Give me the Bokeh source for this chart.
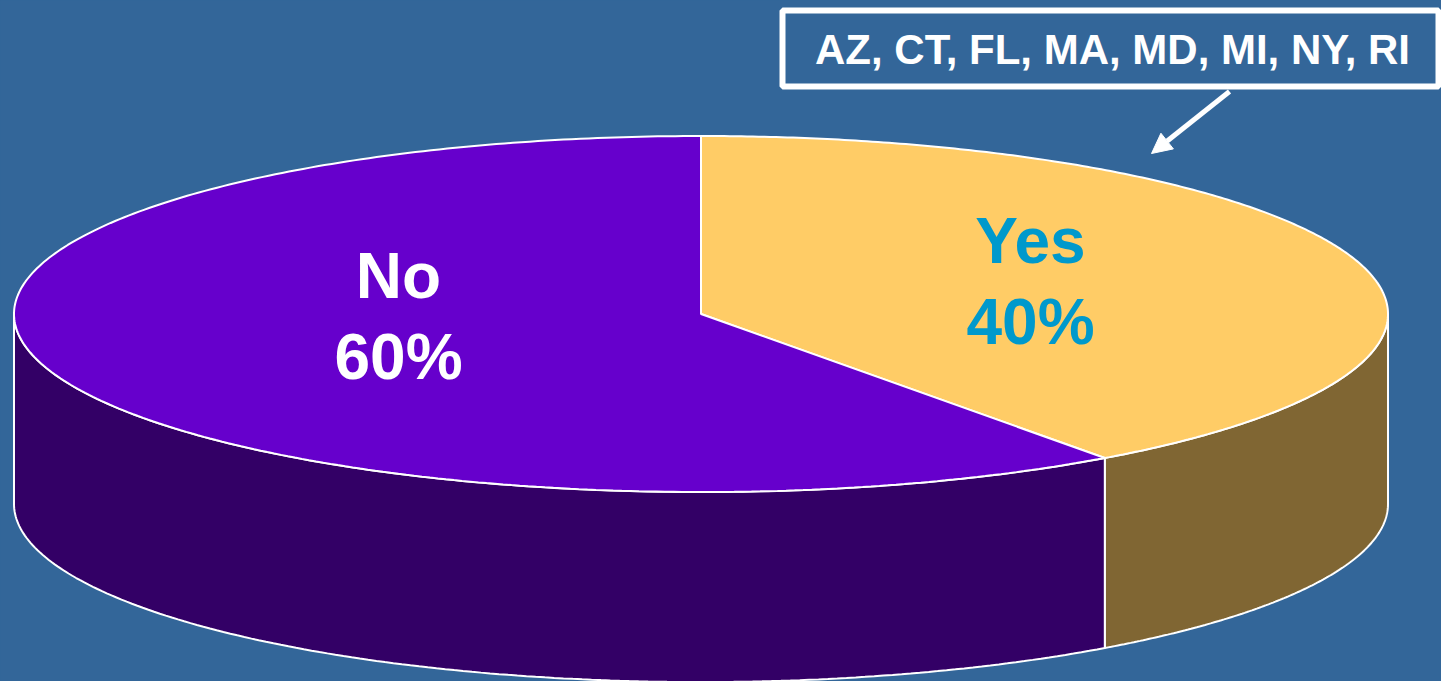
import numpy as np
from bokeh.plotting import figure
from bokeh.models import Arrow, NormalHead, Range1d
from bokeh.core.properties import value
from bokeh.embed import file_html
from bokeh.resources import INLINE

categories = ["Yes", "No"]
shares = [40, 60]
percent_labels = ["40%", "60%"]
states_label = "AZ, CT, FL, MA, MD, MI, NY, RI"

W, H = 1441, 681
BG = "#336699"
TOP_COLORS = ["#FFCC66", "#6600CC"]
WALL_COLORS = ["#806633", "#330066"]
LABEL_COLORS = ["#0099CC", "#FFFFFF"]
CX, CY, RX, RY, DEPTH = 700.5, 313.5, 687, 178, 190

def ell(theta, dy=0.0):
    return CX + RX*np.sin(theta), CY - RY*np.cos(theta) + dy

p = figure(width=W, height=H, x_range=Range1d(0, W), y_range=Range1d(H, 0),
           output_backend="svg", toolbar_location=None, min_border=0,
           background_fill_color=BG, border_fill_color=BG, outline_line_color=None)
p.axis.visible = False
p.grid.visible = False

total = sum(shares)
start = 0.0
for share, top, wall in zip(shares, TOP_COLORS, WALL_COLORS):
    a0, a1 = start, start + 2*np.pi*share/total
    start = a1
    # visible outer wall: the part of the arc on the front half
    w0, w1 = max(a0, np.pi/2), min(a1, 3*np.pi/2)
    if w1 > w0:
        t = np.linspace(w0, w1, 160)
        xu, yu = ell(t)
        xl, yl = ell(t[::-1], DEPTH)
        p.patch(np.r_[xu, xl], np.r_[yu, yl], fill_color=wall, line_color="white", line_width=2)
    t = np.linspace(a0, a1, 300)
    xt, yt = ell(t)
    p.patch(np.r_[CX, xt], np.r_[CY, yt], fill_color=top, line_color="white", line_width=2)

font = value("Liberation Sans")
lx = [1030, 398]
ly = [240, 275]
for i in range(2):
    for txt, dy in ((categories[i], 0), (percent_labels[i], 81)):
        p.text([lx[i]], [ly[i]+dy], text=[txt], text_color=LABEL_COLORS[i], text_font=font,
               text_font_size="64px", text_font_style="bold", text_align="center", text_baseline="middle")

p.quad(left=[782], right=[1438], top=[10], bottom=[86], fill_color=BG, line_color="white", line_width=6)
p.text([1112], [49], text=[states_label], text_color="white", text_font=font, text_font_size="42px",
       text_font_style="bold", text_align="center", text_baseline="middle")
p.add_layout(Arrow(x_start=1229, y_start=91, x_end=1151, y_end=153, line_color="white", line_width=5,
                   end=NormalHead(size=20, fill_color="white", line_color="white", line_width=1)))

html = file_html(p, INLINE).replace("<head>", "<head><style>html,body{margin:0;padding:0;background:%s;overflow:hidden}</style>" % BG, 1)
open("out.html", "w").write(html)
